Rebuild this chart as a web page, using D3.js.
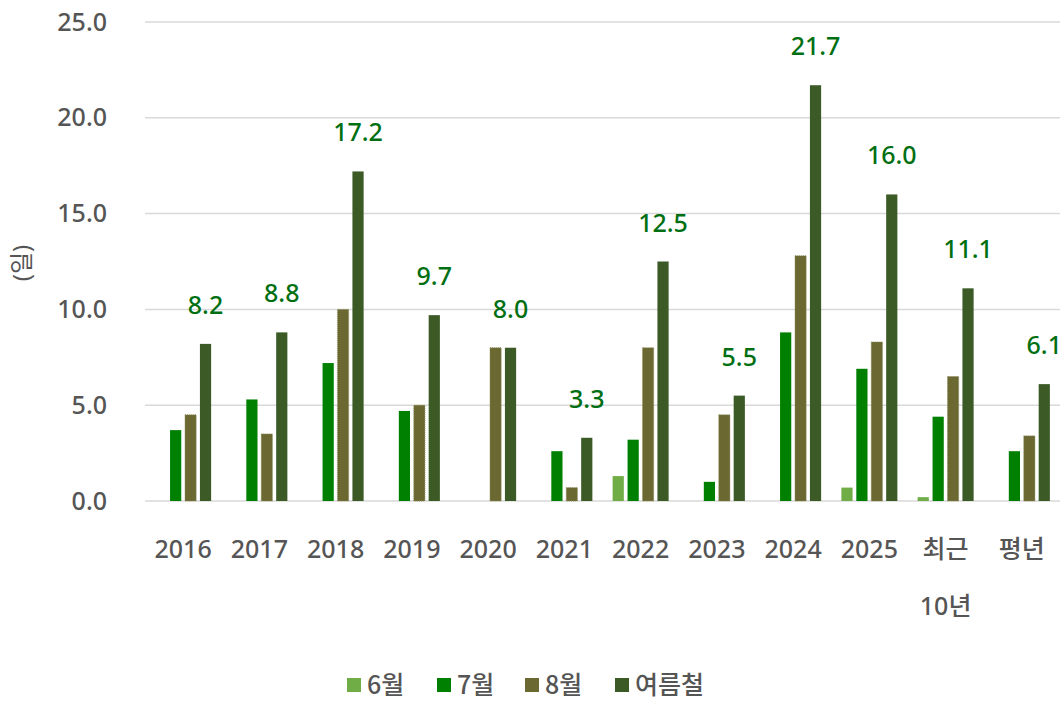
<!DOCTYPE html>
<html>
<head>
<meta charset="utf-8">
<script src="https://cdn.jsdelivr.net/npm/d3@7"></script>
<style>
  body { margin: 0; background: #fff; }
  text { font-family: "Noto Sans", "Noto Sans CJK KR", sans-serif; }
  .legend text { font-family: "Noto Sans CJK KR", sans-serif; }
</style>
</head>
<body>
<div id="chart"></div>
<script>
// categories and series
var categories = ["2016", "2017", "2018", "2019", "2020", "2021", "2022", "2023", "2024", "2025", "최근\n10년", "평년"];
var seriesNames = ["6월", "7월", "8월", "여름철"];
var june   = [0, 0, 0, 0, 0, 0, 1.3, 0, 0, 0.7, 0.2, 0];
var july   = [3.7, 5.3, 7.2, 4.7, 0, 2.6, 3.2, 1.0, 8.8, 6.9, 4.4, 2.6];
var august = [4.5, 3.5, 10.0, 5.0, 8.0, 0.7, 8.0, 4.5, 12.8, 8.3, 6.5, 3.4];
var summer = [8.2, 8.8, 17.2, 9.7, 8.0, 3.3, 12.5, 5.5, 21.7, 16.0, 11.1, 6.1];
var yTicks = [0, 5, 10, 15, 20, 25];

var colors = ["#70ad47", "#008000", "#6b6931", "#3b5a26"];
var textColor = "#555555";
var labelColor = "#006f12";

var svgWidth = 1064;
var svgHeight = 701;
var margin = {top: 22, right: 4, bottom: 200, left: 145};

var svg = d3.select("#chart")
    .append("svg")
    .attr("width", svgWidth)
    .attr("height", svgHeight);

var chart = svg.append("g")
    .attr("transform", `translate(${margin.left}, ${margin.top})`);

var x = d3.scaleBand()
    .domain(categories)
    .range([0, 915]);

var xSub = d3.scaleBand()
    .domain(seriesNames)
    .range([0, 56])
    .paddingInner(0.25);

var y = d3.scaleLinear()
    .domain([0, 25])
    .range([479, 0]);

// gridlines
chart.selectAll("line.grid")
    .data(yTicks)
    .enter()
    .append("line")
    .attr("class", "grid")
    .attr("x1", 0)
    .attr("x2", 915)
    .attr("y1", d => y(d))
    .attr("y2", d => y(d))
    .attr("stroke", "#d9d9d9")
    .attr("stroke-width", 1.5);

// y axis labels
var leftAxis = d3.axisLeft(y)
    .tickValues(yTicks)
    .tickFormat(d3.format(".1f"))
    .tickSize(0)
    .tickPadding(38);

var yAxis = chart.append("g").call(leftAxis);
yAxis.select(".domain").remove();
yAxis.selectAll("text")
    .attr("fill", textColor)
    .style("font-size", "25px")
    .style("font-weight", 500);

svg.append("text")
    .attr("transform", "translate(20, 263) rotate(-90)")
    .attr("text-anchor", "middle")
    .attr("dominant-baseline", "central")
    .attr("fill", textColor)
    .style("font-size", "24px")
    .text("(일)");

// bars
var series = [june, july, august, summer];

var groups = chart.selectAll("g.cat")
    .data(categories)
    .enter()
    .append("g")
    .attr("class", "cat")
    .attr("transform", d => `translate(${x(d) + x.bandwidth() / 2 - 28}, 0)`);

groups.selectAll("rect")
    .data((d, i) => seriesNames.map((s, j) => ({name: s, value: series[j][i]})))
    .enter()
    .append("rect")
    .attr("x", d => xSub(d.name))
    .attr("width", xSub.bandwidth())
    .attr("y", d => y(d.value))
    .attr("height", d => y(0) - y(d.value))
    .attr("fill", (d, j) => colors[j])
    .attr("stroke", (d, j) => j === 2 ? "#8c8a5c" : "none")
    .attr("stroke-dasharray", "1,1")
    .attr("stroke-width", 0.8);

// value labels for summer
chart.selectAll("text.value")
    .data(summer)
    .enter()
    .append("text")
    .attr("class", "value")
    .attr("x", (d, i) => x(categories[i]) + x.bandwidth() / 2 - 28 + xSub("여름철") + xSub.bandwidth() / 2)
    .attr("y", d => y(d) - 30)
    .attr("text-anchor", "middle")
    .attr("fill", labelColor)
    .style("font-size", "25px")
    .style("font-weight", 500)
    .text(d => d.toFixed(1));

// x labels
var xLabels = chart.selectAll("text.xlab")
    .data(categories)
    .enter()
    .append("text")
    .attr("class", "xlab")
    .attr("x", d => x(d) + x.bandwidth() / 2)
    .attr("y", 536)
    .attr("text-anchor", "middle")
    .attr("fill", textColor)
    .style("font-size", "25px")
    .style("font-weight", 500);

xLabels.each(function(d) {
    var lines = d.split("\n");
    d3.select(this).selectAll("tspan")
        .data(lines)
        .enter()
        .append("tspan")
        .attr("x", x(d) + x.bandwidth() / 2)
        .attr("dy", (l, k) => k === 0 ? 0 : 57)
        .text(l => l);
});

// legend
var legendX = [347, 437, 525, 615];
var legend = svg.selectAll("g.legend")
    .data(seriesNames)
    .enter()
    .append("g")
    .attr("class", "legend")
    .attr("transform", (d, i) => `translate(${legendX[i]}, 685)`);

legend.append("rect")
    .attr("x", 0)
    .attr("y", -7)
    .attr("width", 14)
    .attr("height", 14)
    .attr("fill", (d, i) => colors[i]);

legend.append("text")
    .attr("x", 20)
    .attr("y", 9)
    .attr("fill", textColor)
    .style("font-size", "25px")
    .style("font-weight", 500)
    .text(d => d);
</script>
</body>
</html>
